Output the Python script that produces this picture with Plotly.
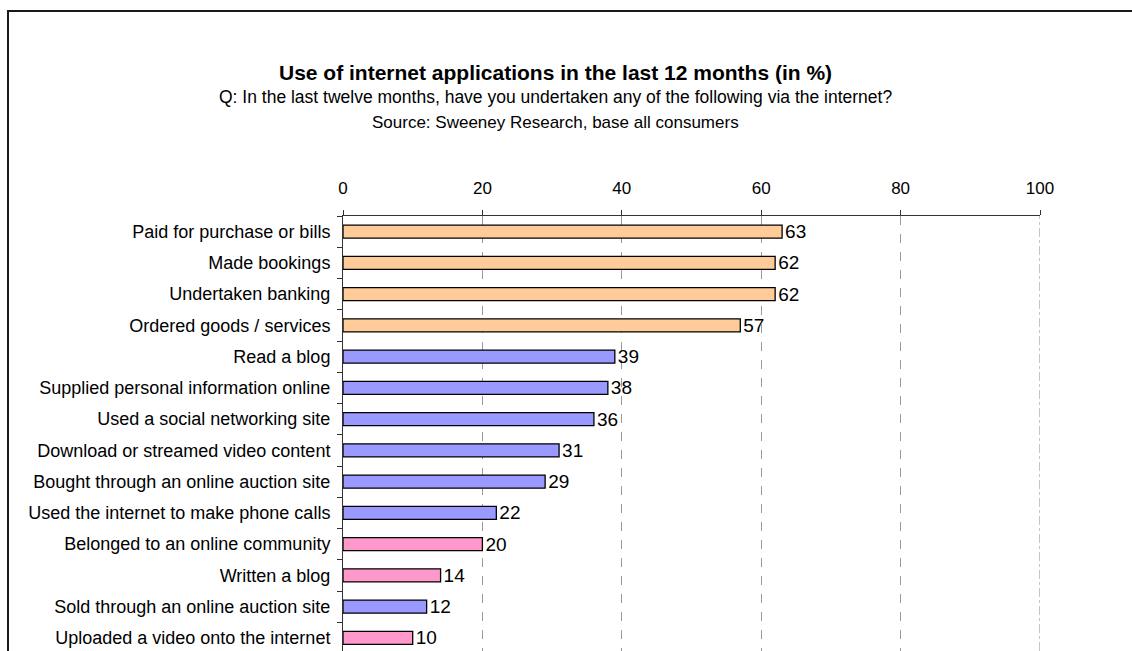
import plotly.graph_objects as go

# Survey results: share of consumers (%) using each internet application
categories = [
    "Paid for purchase or bills",
    "Made bookings",
    "Undertaken banking",
    "Ordered goods / services",
    "Read a blog",
    "Supplied personal information online",
    "Used a social networking site",
    "Download or streamed video content",
    "Bought through an online auction site",
    "Used the internet to make phone calls",
    "Belonged to an online community",
    "Written a blog",
    "Sold through an online auction site",
    "Uploaded a video onto the internet",
]
values = [63, 62, 62, 57, 39, 38, 36, 31, 29, 22, 20, 14, 12, 10]
groups = ["commerce"] * 4 + ["info"] * 6 + ["social", "social", "info", "social"]
x_ticks = [0, 20, 40, 60, 80, 100]

palette = {"commerce": "#FFCC99", "info": "#9999FF", "social": "#FF99CC"}

W, H = 1132, 651
L, R, T, B = 343, 92, 216, 0
PW, PH = W - L - R, H - T - B


def px_x(x):
    return (x - L) / PW


def px_y(y):
    return (H - B - y) / PH


fig = go.Figure(
    go.Bar(
        x=values,
        y=categories,
        orientation="h",
        marker=dict(color=[palette[g] for g in groups],
                    line=dict(color="#000000", width=1.3)),
        text=[str(v) for v in values],
        textposition="outside",
        constraintext="none",
        textfont=dict(family="Liberation Sans, Arial, sans-serif", size=19, color="#000"),
        cliponaxis=False,
        hoverinfo="skip",
    )
)

n_rows_visible = PH / 31.25
fig.update_layout(
    width=W, height=H,
    margin=dict(l=L, r=R, t=T, b=B),
    paper_bgcolor="white", plot_bgcolor="white",
    font=dict(family="Liberation Sans, Arial, sans-serif", size=17, color="#000"),
    bargap=0.58,
    showlegend=False,
    xaxis=dict(
        side="top", range=[0, 100], tickvals=x_ticks,
        ticktext=[str(t) for t in x_ticks],
        showline=True, linecolor="#333", linewidth=1,
        ticks="outside", ticklen=5, tickcolor="#333",
        ticklabelstandoff=9, tickfont=dict(size=17),
        showgrid=True, gridcolor="#9a9a9a", griddash="dash", gridwidth=1,
        zeroline=False, fixedrange=True,
    ),
    yaxis=dict(
        type="category",
        range=[-0.5 + n_rows_visible, -0.5],
        showline=True, linecolor="#333", linewidth=1,
        ticks="outside", ticklen=5, tickcolor="#333",
        tickson="boundaries", ticklabelstandoff=8,
        tickfont=dict(size=18),
        showgrid=False, zeroline=False, fixedrange=True,
    ),
    shapes=[
        # outer frame of the chart panel
        dict(type="rect", xref="paper", yref="paper",
             x0=px_x(8), x1=px_x(1150), y0=px_y(11), y1=px_y(680),
             line=dict(color="#1a1a1a", width=2), layer="below"),
        # right-hand boundary of the scale, drawn dash-dot
        dict(type="line", xref="x", yref="paper", x0=100, x1=100, y0=0, y1=1,
             line=dict(color="#8a8a8a", width=1, dash="dashdot"), layer="below"),
    ],
    annotations=[
        dict(text="<b>Use of internet applications in the last 12 months (in %)</b>",
             xref="paper", yref="paper", x=px_x(555), y=px_y(73),
             xanchor="center", yanchor="middle",
             showarrow=False, font=dict(size=21)),
        dict(text="Q: In the last twelve months, have you undertaken any of the following via the internet?",
             xref="paper", yref="paper", x=px_x(555), y=px_y(97),
             xanchor="center", yanchor="middle",
             showarrow=False, font=dict(size=17.5)),
        dict(text="Source: Sweeney Research, base all consumers",
             xref="paper", yref="paper", x=px_x(555), y=px_y(122),
             xanchor="center", yanchor="middle",
             showarrow=False, font=dict(size=17)),
    ],
)

fig.write_html("out.html")
